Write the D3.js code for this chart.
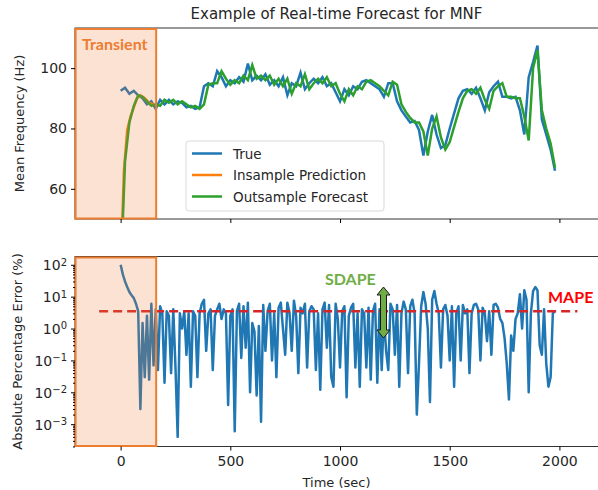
<!DOCTYPE html>
<html>
<head>
<meta charset="utf-8">
<script src="https://cdn.jsdelivr.net/npm/d3@7"></script>
<style>
  body { margin: 0; background: #fff; }
  text { font-family: "DejaVu Sans", sans-serif; fill: #262626; }
  .note { font-family: Lato, "Open Sans", sans-serif; font-weight: bold; }
</style>
</head>
<body>
<svg id="chart" width="598" height="490"></svg>
<script>
// Time grid of the frequency traces (sec)
const freqTimes = d3.range(0, 2000, 20);

// Mean frequency (Hz)
const trueFreq = [
  92.5, 93.5, 91.5, 92.5, 91, 90, 88, 89, 86.5, 89.5,
  88, 89.5, 88, 89, 88.5, 87, 87.5, 86.5, 87, 94,
  95, 94, 99, 97, 94, 96, 95, 97, 95.5, 101.5,
  96, 97.5, 96, 98, 94.5, 96, 94, 97, 91, 95,
  94, 98.5, 93, 95, 96.5, 95, 97, 94, 95, 92,
  89, 93, 91, 94, 93, 95.5, 96, 95, 94, 93,
  90.5, 95, 95, 89, 86, 84, 82, 82.5, 79.5, 71,
  79, 84.5, 78, 73.5, 74.5, 80, 85, 90, 92.5, 93,
  91.5, 93.5, 90, 86, 92, 94, 95.5, 90.5, 90.5, 90,
  90.5, 86, 78, 97, 102, 107.5, 83, 78, 73, 66
];
const outsampleFreq = [
  30, 69, 82, 87.5, 91, 90.5, 89, 87.5, 88, 87.5,
  89.5, 88.5, 89.5, 88, 89, 88, 87, 87.5, 86.5, 88,
  94.5, 95, 95, 99, 96.5, 94.5, 96, 95, 97.5, 96,
  101, 96.5, 97.5, 96, 97.5, 94.5, 96.5, 94, 96.5, 91.5,
  95, 94, 98, 93, 95, 96.5, 95, 97, 94, 95,
  91.5, 89, 93, 91, 94, 93, 95.5, 96, 95, 94,
  92.5, 91, 95.5, 94.5, 88, 85.5, 83.5, 82, 82, 79,
  71, 80, 84, 77, 73, 75.5, 80.5, 85.5, 90, 92.5,
  93, 91.5, 93.5, 89.5, 86.5, 92.5, 94, 95, 90.5, 90.5,
  90, 90, 84, 76, 100, 106, 86, 80, 75, 67
];
const insampleTimes = [0, 8, 15, 30, 45, 60, 75, 90, 110, 130, 150];
const insampleFreq = [20, 50, 66, 79.5, 84, 87, 90, 91, 90, 88.5, 88];

// Absolute percentage error (%), every 10 sec
const apeTimes = d3.range(0, 1990, 10);
const apeValues = [
  100, 50, 30, 20, 14, 11, 9, 6, 3.5, 0.003,
  1.5, 0.03, 2.5, 0.025, 6, 0.07, 4, 0.05, 5, 3,
  0.02, 3.5, 2.5, 0.04, 4, 0.06, 0.0004, 3, 1, 3.5,
  0.15, 3, 0.015, 3.5, 2.5, 0.03, 3, 6, 8, 0.2,
  3, 4, 0.05, 2.5, 4, 6, 2, 4, 3, 0.004,
  2.5, 4, 0.0006, 3.5, 6, 0.12, 5, 0.25, 6.5, 0.01,
  1.5, 0.8, 0.008, 1.2, 0.0012, 5.5, 0.2, 3.5, 6, 0.1,
  3, 0.03, 4.5, 6.5, 1, 0.15, 6.5, 3, 0.2, 7.5,
  2.5, 0.04, 4.5, 3, 6, 0.06, 3.5, 5, 4, 0.05,
  3, 0.012, 4, 6.5, 0.25, 5.5, 0.03, 0.015, 6, 2,
  0.06, 3.5, 5, 0.007, 2.5, 4.5, 6, 0.06, 3, 0.015,
  4, 3, 0.06, 4.5, 0.025, 3.5, 6, 0.02, 4, 0.05,
  2.5, 0.2, 0.05, 6, 4, 0.15, 5.5, 0.015, 3, 7,
  4, 0.04, 5, 8, 3, 0.002, 0.08, 5, 14, 6,
  1, 0.005, 8, 15, 6, 3, 0.06, 4, 5.5, 2.5,
  0.1, 5, 0.015, 3, 5, 0.1, 5.5, 3, 4, 0.04,
  3, 5.5, 6, 4, 0.1, 4.5, 3, 0.4, 3.5, 0.15,
  5.5, 6, 4.5, 2, 1.5, 0.5, 0.08, 0.006, 0.6, 0.2,
  2, 3, 12, 1, 16, 8, 0.01, 3, 15, 20,
  16, 0.3, 0.15, 4, 0.08, 0.015, 0.03, 3, 3.5
];
const mape = 3.5;
const mapeSpan = [-98, 2082];
const transientSpan = [-210, 162];

const xTicks = [0, 500, 1000, 1500, 2000];
const freqTicks = [60, 80, 100];
const apeTicks = [1e-3, 1e-2, 1e-1, 1e0, 1e1, 1e2];
const legendLabels = ["True", "Insample Prediction", "Outsample Forecast"];
const seriesColors = ["#1f77b4", "#ff7f0e", "#2ca02c"];

const svg = d3.select("#chart");
const left = 75, right = 600;
const top1 = 28, bottom1 = 219, top2 = 256.5, bottom2 = 446.5;

const x = d3.scaleLinear().domain([-208, 2185]).range([left, right]);
const yTop = d3.scaleLinear().domain([50, 113.3]).range([bottom1, top1]);
const yBot = d3.scaleLog().domain([Math.pow(10, -3.7), Math.pow(10, 2.26)]).range([bottom2, top2]);

const defs = svg.append("defs");
defs.append("clipPath").attr("id", "clipTop").append("rect")
  .attr("x", left).attr("y", top1).attr("width", right - left).attr("height", bottom1 - top1);
defs.append("clipPath").attr("id", "clipBot").append("rect")
  .attr("x", left).attr("y", top2).attr("width", right - left).attr("height", bottom2 - top2);

// ---------- top panel ----------
const gTop = svg.append("g").attr("clip-path", "url(#clipTop)");
const lineTop = d3.line().x(d => x(d[0])).y(d => yTop(d[1]));

gTop.append("path").datum(d3.zip(freqTimes, trueFreq))
  .attr("fill", "none").attr("stroke", seriesColors[0]).attr("stroke-width", 2.5).attr("d", lineTop);
gTop.append("path").datum(d3.zip(insampleTimes, insampleFreq))
  .attr("fill", "none").attr("stroke", seriesColors[1]).attr("stroke-width", 2.5).attr("d", lineTop);
gTop.append("path").datum(d3.zip(freqTimes, outsampleFreq))
  .attr("fill", "none").attr("stroke", seriesColors[2]).attr("stroke-width", 2.5).attr("d", lineTop);

// transient shading
gTop.append("rect")
  .attr("x", x(transientSpan[0])).attr("y", top1)
  .attr("width", x(transientSpan[1]) - x(transientSpan[0])).attr("height", bottom1 - top1)
  .attr("fill", "#ed7d31").attr("fill-opacity", 0.22);

// frame
svg.append("rect").attr("x", left).attr("y", top1).attr("width", right - left).attr("height", bottom1 - top1)
  .attr("fill", "none").attr("stroke", "#333").attr("stroke-width", 1);
svg.append("rect")
  .attr("x", x(transientSpan[0]) + 1).attr("y", top1 + 1)
  .attr("width", x(transientSpan[1]) - x(transientSpan[0]) - 1).attr("height", bottom1 - top1 - 1.5)
  .attr("fill", "none").attr("stroke", "#ed7d31").attr("stroke-width", 2);

svg.append("g").attr("transform", `translate(${left},0)`)
  .call(d3.axisLeft(yTop).tickValues(freqTicks).tickSize(4).tickPadding(4))
  .call(g => g.select(".domain").remove())
  .call(g => g.selectAll("text").style("font-size", "14px").attr("fill", "#262626"));
svg.append("g").attr("transform", `translate(0,${bottom1})`)
  .call(d3.axisBottom(x).tickValues(xTicks).tickSize(4).tickFormat(""))
  .call(g => g.select(".domain").remove());

svg.append("text").attr("x", (left + right) / 2 - 1).attr("y", 19).attr("text-anchor", "middle")
  .style("font-size", "15px").text("Example of Real-time Forecast for MNF");
svg.append("text").attr("transform", `translate(24,${(top1 + bottom1) / 2}) rotate(-90)`)
  .attr("text-anchor", "middle").style("font-size", "13px").text("Mean Frequency (Hz)");

svg.append("text").attr("class", "note").attr("x", 82).attr("y", 50)
  .style("font-size", "16px").style("fill", "#ed7d31").text("Transient");

// legend
const leg = svg.append("g").attr("transform", "translate(186,141)");
leg.append("rect").attr("width", 198).attr("height", 70).attr("rx", 3)
  .attr("fill", "#fff").attr("fill-opacity", 0.85).attr("stroke", "#d9d9d9");
legendLabels.forEach((lab, i) => {
  const yy = 12.5 + i * 21.5;
  leg.append("line").attr("x1", 6).attr("x2", 36).attr("y1", yy).attr("y2", yy)
    .attr("stroke", seriesColors[i]).attr("stroke-width", 2.5);
  leg.append("text").attr("x", 47).attr("y", yy + 5).style("font-size", "13.5px").text(lab);
});

// ---------- bottom panel ----------
const gBot = svg.append("g").attr("clip-path", "url(#clipBot)");
gBot.append("path").datum(d3.zip(apeTimes, apeValues))
  .attr("fill", "none").attr("stroke", seriesColors[0]).attr("stroke-width", 2.5)
  .attr("stroke-linejoin", "round")
  .attr("d", d3.line().x(d => x(d[0])).y(d => yBot(d[1])));
gBot.append("line")
  .attr("x1", x(mapeSpan[0])).attr("x2", x(mapeSpan[1]))
  .attr("y1", yBot(mape)).attr("y2", yBot(mape))
  .attr("stroke", "#d62728").attr("stroke-width", 2.5).attr("stroke-dasharray", "9,5");
gBot.append("rect")
  .attr("x", x(transientSpan[0])).attr("y", top2)
  .attr("width", x(transientSpan[1]) - x(transientSpan[0])).attr("height", bottom2 - top2)
  .attr("fill", "#ed7d31").attr("fill-opacity", 0.22);

svg.append("rect").attr("x", left).attr("y", top2).attr("width", right - left).attr("height", bottom2 - top2)
  .attr("fill", "none").attr("stroke", "#333").attr("stroke-width", 1);
svg.append("rect")
  .attr("x", x(transientSpan[0]) + 1).attr("y", top2 + 1)
  .attr("width", x(transientSpan[1]) - x(transientSpan[0]) - 1).attr("height", bottom2 - top2 - 1.5)
  .attr("fill", "none").attr("stroke", "#ed7d31").attr("stroke-width", 2);

// log axis: major + minor ticks
const minorTicks = yBot.ticks().filter(v => apeTicks.indexOf(v) < 0);
svg.append("g").attr("transform", `translate(${left},0)`)
  .call(d3.axisLeft(yBot).tickValues(minorTicks).tickSize(2).tickFormat(""))
  .call(g => g.select(".domain").remove());
const yAx = svg.append("g").attr("transform", `translate(${left},0)`)
  .call(d3.axisLeft(yBot).tickValues(apeTicks).tickSize(4).tickPadding(4).tickFormat(""))
  .call(g => g.select(".domain").remove());
yAx.selectAll(".tick").append("text")
  .attr("x", -8).attr("dy", "0.35em").attr("text-anchor", "end").style("font-size", "14px")
  .each(function (d) {
    const e = Math.round(Math.log10(d));
    const t = d3.select(this);
    t.append("tspan").text("10");
    t.append("tspan").attr("dy", "-0.45em").style("font-size", "10px")
      .text(e < 0 ? "\u2212" + (-e) : String(e));
  });

svg.append("g").attr("transform", `translate(0,${bottom2})`)
  .call(d3.axisBottom(x).tickValues(xTicks).tickSize(4).tickPadding(6).tickFormat(d3.format("d")))
  .call(g => g.select(".domain").remove())
  .call(g => g.selectAll("text").style("font-size", "14px").attr("fill", "#262626"));

svg.append("text").attr("x", (left + right) / 2 - 1).attr("y", 487).attr("text-anchor", "middle")
  .style("font-size", "13px").text("Time (sec)");
svg.append("text").attr("transform", `translate(22,${(top2 + bottom2) / 2}) rotate(-90)`)
  .attr("text-anchor", "middle").style("font-size", "13px").text("Absolute Percentage Error (%)");

// annotations
svg.append("text").attr("class", "note").attr("x", 325).attr("y", 285)
  .style("font-size", "16px").style("fill", "#70ad47").text("SDAPE");
svg.append("text").attr("class", "note").attr("x", 548).attr("y", 303)
  .style("font-size", "16px").style("fill", "#ff0000").text("MAPE");

const ax = 383.5, ay0 = 287, ay1 = 338, hw = 6.5, sw = 3, hl = 8;
svg.append("path")
  .attr("d", `M${ax},${ay0} L${ax + hw},${ay0 + hl} L${ax + sw},${ay0 + hl} L${ax + sw},${ay1 - hl} ` +
    `L${ax + hw},${ay1 - hl} L${ax},${ay1} L${ax - hw},${ay1 - hl} L${ax - sw},${ay1 - hl} ` +
    `L${ax - sw},${ay0 + hl} L${ax - hw},${ay0 + hl} Z`)
  .attr("fill", "#70ad47").attr("stroke", "#1a1a1a").attr("stroke-width", 1);
</script>
</body>
</html>
